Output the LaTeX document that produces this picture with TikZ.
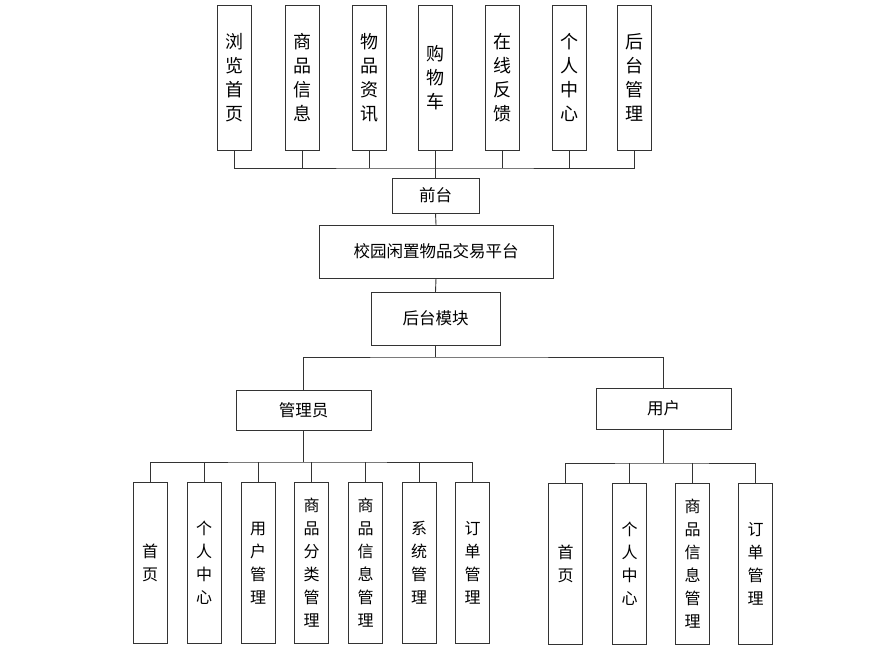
\documentclass[tikz,border=0pt]{standalone}
\usepackage{fontspec}
\newfontfamily\cjk{Noto Sans CJK SC}
\usepackage{tikz}

\begin{document}
\begin{tikzpicture}[x=1pt,y=-1pt]
  \tikzstyle{vbox}=[draw=black!80, fill=white, inner sep=0pt, minimum width=34pt, align=center]
  \tikzstyle{topbox}=[vbox, minimum height=145pt, font=\cjk\fontsize{18}{24}\selectfont]
  \tikzstyle{leafbox}=[vbox, minimum height=161pt, font=\cjk\fontsize{16}{23}\selectfont]
  \tikzstyle{hbox}=[draw=black!80, fill=white, inner sep=0pt, align=center, font=\cjk\fontsize{16.5}{20}\selectfont]
  \tikzstyle{link}=[draw=black!80, line width=0.9pt]
  \useasboundingbox (0,0) rectangle (880,653);
  % 前台
  \node[topbox] (t1) at (234.5,77.5) {浏\\览\\首\\页};
  \node[topbox] (t2) at (302.0,77.5) {商\\品\\信\\息};
  \node[topbox] (t3) at (369.0,77.5) {物\\品\\资\\讯};
  \node[topbox] (t4) at (435.5,77.5) {购\\物\\车};
  \node[topbox] (t5) at (502.0,77.5) {在\\线\\反\\馈};
  \node[topbox] (t6) at (569.0,77.5) {个\\人\\中\\心};
  \node[topbox] (t7) at (634.0,77.5) {后\\台\\管\\理};
  \node[hbox, minimum width=87pt, minimum height=35pt] (qt) at (435.5,195.5) {前台};
  \node[hbox, minimum width=234pt, minimum height=53pt] (pt) at (436.0,251.5) {校园闲置物品交易平台};
  \node[hbox, minimum width=129pt, minimum height=53pt] (ht) at (435.5,318.5) {后台模块};
  % 后台
  \node[hbox, minimum width=135pt, minimum height=40pt] (adm) at (303.5,410.0) {管理员};
  \node[hbox, minimum width=135pt, minimum height=41pt] (usr) at (663.5,408.5) {用户};
  \node[leafbox] (a1) at (150.0,563) {首\\页};
  \node[leafbox] (a2) at (204.0,563) {个\\人\\中\\心};
  \node[leafbox] (a3) at (258.0,563) {用\\户\\管\\理};
  \node[leafbox] (a4) at (311.5,563) {商\\品\\分\\类\\管\\理};
  \node[leafbox] (a5) at (365.5,563) {商\\品\\信\\息\\管\\理};
  \node[leafbox] (a6) at (419.0,563) {系\\统\\管\\理};
  \node[leafbox] (a7) at (472.5,563) {订\\单\\管\\理};
  \node[leafbox] (u1) at (565.5,564) {首\\页};
  \node[leafbox] (u2) at (629.5,564) {个\\人\\中\\心};
  \node[leafbox] (u3) at (692.5,564) {商\\品\\信\\息\\管\\理};
  \node[leafbox] (u4) at (755.5,564) {订\\单\\管\\理};
  % 连线
  \coordinate (topbus) at (435.5,168);
  \coordinate (hbus) at (435.5,357);
  \coordinate (abus) at (303.5,462);
  \coordinate (ubus) at (663.5,463);
  \draw[link] (t1.south) |- (topbus) -| (t7.south);
  \draw[link] (t2.south) -- (t2.south |- topbus);
  \draw[link] (t3.south) -- (t3.south |- topbus);
  \draw[link] (t5.south) -- (t5.south |- topbus);
  \draw[link] (t6.south) -- (t6.south |- topbus);
  \draw[link] (t4.south) -- (qt.north);
  \draw[link] (qt.south) -- (pt.north);
  \draw[link] (pt.south) -- (ht.north);
  \draw[link] (ht.south) -- (hbus);
  \draw[link] (adm.north) |- (hbus) -| (usr.north);
  \draw[link] (adm.south) -- (abus);
  \draw[link] (a1.north) |- (abus) -| (a7.north);
  \draw[link] (a2.north) -- (a2.north |- abus);
  \draw[link] (a3.north) -- (a3.north |- abus);
  \draw[link] (a4.north) -- (a4.north |- abus);
  \draw[link] (a5.north) -- (a5.north |- abus);
  \draw[link] (a6.north) -- (a6.north |- abus);
  \draw[link] (usr.south) -- (ubus);
  \draw[link] (u1.north) |- (ubus) -| (u4.north);
  \draw[link] (u2.north) -- (u2.north |- ubus);
  \draw[link] (u3.north) -- (u3.north |- ubus);
\end{tikzpicture}
\end{document}
